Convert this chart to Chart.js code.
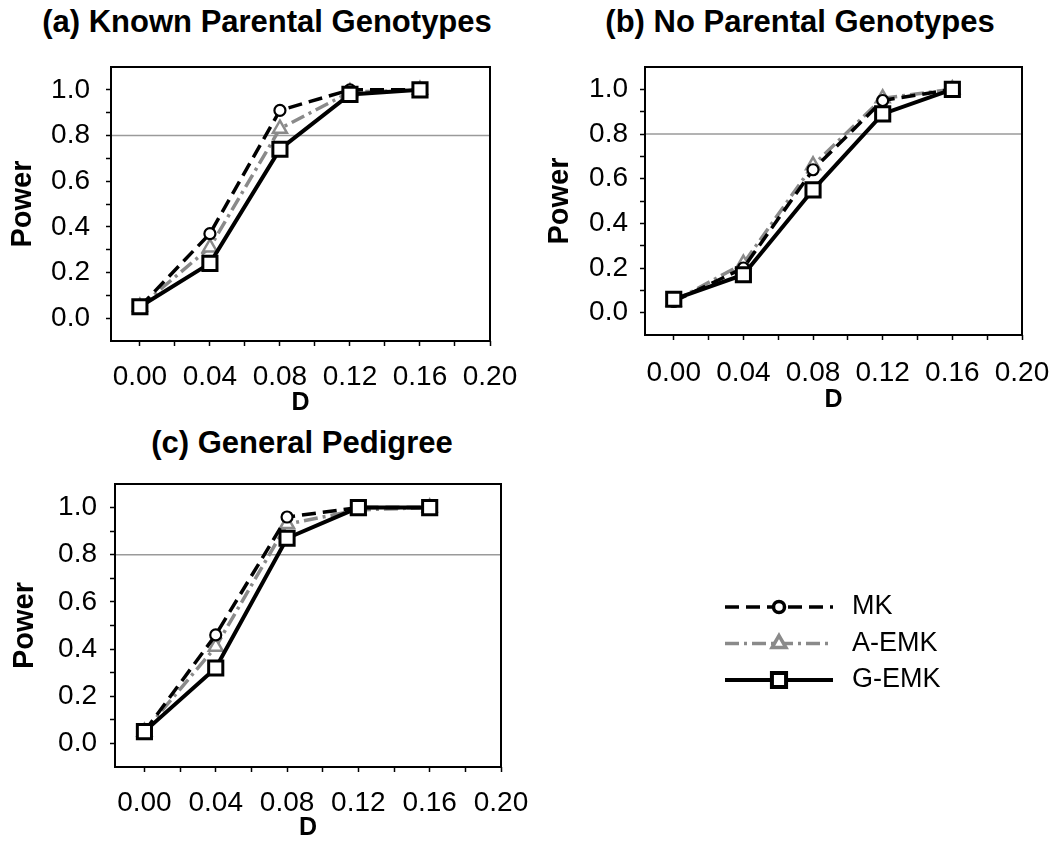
<!DOCTYPE html>
<html lang="en">
<head>
<meta charset="UTF-8">
<title>Power vs D</title>
<style>
  body { margin: 0; background: #fff; font-family: 'Liberation Sans', Arial, sans-serif; }
  #page { position: relative; width: 1058px; height: 848px; overflow: hidden; background: #fff; }
  .title { position: absolute; font-weight: bold; font-size: 31px; line-height: 34px; white-space: nowrap; transform: translateX(-50%); color: #000; }
  canvas { position: absolute; }
</style>
</head>
<body>
<div id="page">
  <div class="title" style="left:267px; top:5px">(a) Known Parental Genotypes</div>
  <div class="title" style="left:800px; top:5px">(b) No Parental Genotypes</div>
  <div class="title" style="left:302px; top:426px">(c) General Pedigree</div>
  <canvas id="chartA" width="529" height="380" style="left:0; top:50px"></canvas>
  <canvas id="chartB" width="528" height="380" style="left:530px; top:50px"></canvas>
  <canvas id="chartC" width="1058" height="378" style="left:0; top:470px"></canvas>
</div>
<script src="https://cdn.jsdelivr.net/npm/chart.js"></script>
<script>
// x values (D) shared by all panels
const dValues = [0.00, 0.04, 0.08, 0.12, 0.16];

// (a) Known Parental Genotypes
const mkA   = [0.05, 0.37, 0.91, 1.00, 1.00];
const aemkA = [0.05, 0.31, 0.83, 0.99, 1.00];
const gemkA = [0.05, 0.24, 0.74, 0.98, 1.00];

// (b) No Parental Genotypes
const mkB   = [0.05, 0.20, 0.64, 0.95, 1.00];
const aemkB = [0.05, 0.22, 0.66, 0.96, 1.00];
const gemkB = [0.06, 0.17, 0.55, 0.89, 1.00];

// (c) General Pedigree
const mkC   = [0.05, 0.46, 0.96, 1.00, 1.00];
const aemkC = [0.05, 0.41, 0.93, 0.99, 1.00];
const gemkC = [0.05, 0.32, 0.87, 1.00, 1.00];

const seriesNames = ['MK', 'A-EMK', 'G-EMK'];

// ticks (minor + labelled)
const xTickValues  = [0, 0.02, 0.04, 0.06, 0.08, 0.10, 0.12, 0.14, 0.16, 0.18, 0.20];
const xLabelValues = [0, 0.04, 0.08, 0.12, 0.16, 0.20];
const yTickValues  = [0, 0.1, 0.2, 0.3, 0.4, 0.5, 0.6, 0.7, 0.8, 0.9, 1.0];
const yLabelValues = [0, 0.2, 0.4, 0.6, 0.8, 1.0];
const refLine = 0.8;

const styles = [
  { borderColor: '#000', borderWidth: 3.5, borderDash: [14, 7], pointStyle: 'circle', pointRadius: 5.5, pointBorderWidth: 2.2, order: 1 },
  { borderColor: '#8a8a8a', borderWidth: 3.5, borderDash: [14, 5, 3, 5], pointStyle: 'triangle', pointRadius: 8, pointBorderWidth: 2.5, order: 2 },
  { borderColor: '#000', borderWidth: 4, borderDash: [], pointStyle: 'rect', pointRadius: 10, pointBorderWidth: 3, order: 0 }
];

function hasValue(list, v) {
  return list.some(function (t) { return Math.abs(t - v) < 1e-6; });
}

const framePlugin = {
  id: 'frame',
  beforeDatasetsDraw(chart) {
    const ctx = chart.ctx, a = chart.chartArea;
    const y = chart.scales.y.getPixelForValue(refLine);
    ctx.save();
    ctx.strokeStyle = '#9a9a9a';
    ctx.lineWidth = 1.5;
    ctx.beginPath();
    ctx.moveTo(a.left, y);
    ctx.lineTo(a.right, y);
    ctx.stroke();
    ctx.strokeStyle = '#000';
    ctx.lineWidth = 2;
    ctx.strokeRect(a.left, a.top, a.right - a.left, a.bottom - a.top);
    ctx.restore();
  }
};

// line + marker legend, drawn outside the plot of panel (c)
const legendPlugin = {
  id: 'sideLegend',
  afterDraw(chart, args, opts) {
    if (!opts.show) return;
    const ctx = chart.ctx;
    chart.data.datasets.forEach(function (ds, i) {
      const y = opts.y + i * opts.rowGap;
      ctx.save();
      ctx.strokeStyle = ds.borderColor;
      ctx.lineWidth = ds.borderWidth;
      ctx.setLineDash(ds.borderDash);
      ctx.beginPath();
      ctx.moveTo(opts.x0, y);
      ctx.lineTo(opts.x1, y);
      ctx.stroke();
      ctx.setLineDash([]);
      ctx.fillStyle = '#fff';
      ctx.strokeStyle = ds.borderColor;
      Chart.helpers.drawPoint(ctx, {
        pointStyle: ds.pointStyle, radius: ds.pointRadius, borderWidth: ds.pointBorderWidth, rotation: 0
      }, (opts.x0 + opts.x1) / 2, y);
      ctx.fillStyle = '#000';
      ctx.font = '27px "Liberation Sans", Arial, sans-serif';
      ctx.textBaseline = 'middle';
      ctx.textAlign = 'left';
      ctx.fillText(ds.label, opts.textX, y);
      ctx.restore();
    });
  }
};

function makePanel(id, series, lay, legend) {
  const datasets = series.map(function (vals, i) {
    const s = styles[i];
    return {
      label: seriesNames[i],
      data: dValues.map(function (d, j) { return { x: d, y: vals[j] }; }),
      borderColor: s.borderColor,
      borderWidth: s.borderWidth,
      borderDash: s.borderDash,
      pointStyle: s.pointStyle,
      pointRadius: s.pointRadius,
      pointBorderWidth: s.pointBorderWidth,
      pointBorderColor: s.borderColor,
      pointBackgroundColor: '#fff',
      tension: 0,
      fill: false,
      order: s.order
    };
  });
  new Chart(document.getElementById(id), {
    type: 'line',
    data: { datasets: datasets },
    plugins: [framePlugin, legendPlugin],
    options: {
      responsive: false,
      animation: false,
      events: [],
      layout: { padding: lay.padding },
      plugins: {
        legend: { display: false },
        tooltip: { enabled: false },
        sideLegend: legend || { show: false }
      },
      scales: {
        x: {
          type: 'linear',
          min: -0.0165,
          max: 0.20,
          afterBuildTicks: function (scale) { scale.ticks = xTickValues.map(function (v) { return { value: v }; }); },
          afterFit: function (scale) {
            scale.height = lay.xH;
            scale.paddingLeft = 0; scale.paddingRight = 0;
          },
          border: { display: false },
          grid: { drawOnChartArea: false, drawTicks: true, tickLength: 5, tickColor: '#000', tickWidth: 1.5 },
          ticks: {
            autoSkip: false,
            maxRotation: 0,
            padding: lay.xTickPad,
            color: '#000',
            font: { family: "'Liberation Sans', Arial, sans-serif", size: 28 },
            callback: function (v) { return hasValue(xLabelValues, v) ? v.toFixed(2) : ''; }
          },
          title: {
            display: true, text: 'D', color: '#000', padding: lay.dPad,
            font: { family: "'Liberation Sans', Arial, sans-serif", size: 25, weight: 'bold' }
          }
        },
        y: {
          min: -0.1,
          max: 1.1,
          afterBuildTicks: function (scale) { scale.ticks = yTickValues.map(function (v) { return { value: v }; }); },
          afterFit: function (scale) {
            scale.width = lay.yW;
            scale.paddingTop = 0; scale.paddingBottom = 0;
          },
          border: { display: false },
          grid: { drawOnChartArea: false, drawTicks: true, tickLength: 5, tickColor: '#000', tickWidth: 1.5 },
          ticks: {
            autoSkip: false,
            padding: lay.yTickPad,
            color: '#000',
            font: { family: "'Liberation Sans', Arial, sans-serif", size: 28 },
            callback: function (v) { return hasValue(yLabelValues, v) ? v.toFixed(1) : ''; }
          },
          title: {
            display: true, text: 'Power', color: '#000', padding: lay.powerPad,
            font: { family: "'Liberation Sans', Arial, sans-serif", size: 29, weight: 'bold' }
          }
        }
      }
    }
  });
}

makePanel('chartA', [mkA, aemkA, gemkA], {
  padding: { top: 17, right: 39, left: 0, bottom: 0 }, yW: 111, xH: 89,
  yTickPad: 16, xTickPad: 14, powerPad: 5.6, dPad: 12
});
makePanel('chartB', [mkB, aemkB, gemkB], {
  padding: { top: 17, right: 36, left: 0, bottom: 0 }, yW: 115, xH: 95,
  yTickPad: 12, xTickPad: 16, powerPad: 12.6, dPad: 15
});
makePanel('chartC', [mkC, aemkC, gemkC], {
  padding: { top: 14, right: 557, left: 0, bottom: 0 }, yW: 115, xH: 81,
  yTickPad: 13, xTickPad: 14, powerPad: 7.6, dPad: 5
}, { show: true, x0: 725, x1: 833, textX: 852, y: 137, rowGap: 36.5 });
</script>
</body>
</html>
